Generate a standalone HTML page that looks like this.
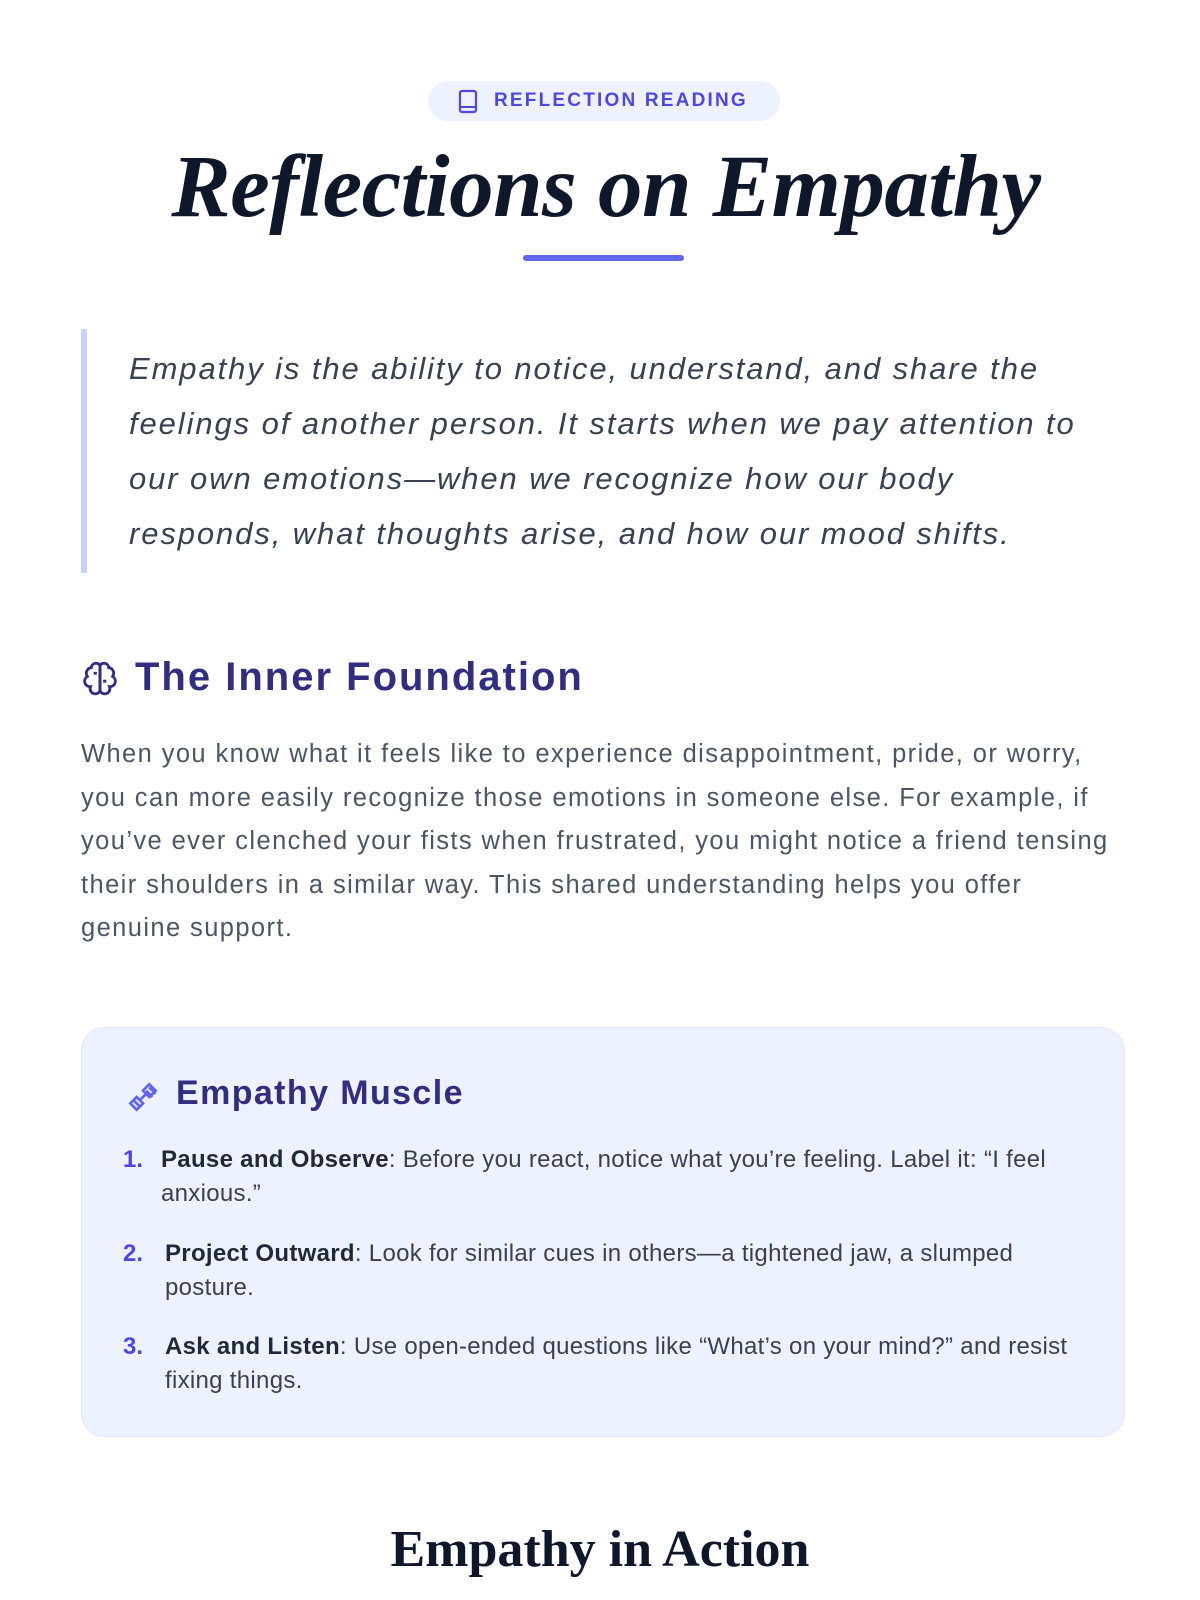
<!DOCTYPE html>
<html><head><meta charset="utf-8"><style>
*{margin:0;padding:0;box-sizing:border-box}
body{width:1200px;height:1600px;background:#fff;position:relative;overflow:hidden;font-family:"Liberation Sans",sans-serif}
.a{position:absolute;white-space:nowrap}
</style></head><body>
<div class="a" style="left:428px;top:81px;width:352px;height:40px;border-radius:20px;background:#eef2ff"></div>
<svg class="a" style="left:457px;top:89px" width="22" height="26" viewBox="0 0 22 26"><rect x="3" y="2" width="16" height="21" rx="2" fill="none" stroke="#4f46e5" stroke-width="2.2"/><line x1="3" y1="18" x2="19" y2="18" stroke="#4f46e5" stroke-width="2"/></svg>
<div class="a" style="left:494px;top:89px;font-size:19px;font-weight:bold;letter-spacing:2.2px;color:#4f46e5;line-height:24px">REFLECTION READING</div>
<div class="a" style="left:6px;width:1200px;top:137px;text-align:center;font-family:'Liberation Serif',serif;font-style:italic;font-weight:bold;font-size:89px;line-height:100px;color:#0f172a;letter-spacing:-0.5px">Reflections on Empathy</div>
<div class="a" style="left:523px;top:255px;width:161px;height:6px;border-radius:3px;background:#6366f1"></div>
<div class="a" style="left:81px;top:329px;width:6px;height:244px;background:#c7d2fe"></div>
<div class="a" style="left:129px;top:341px;font-size:31px;font-style:italic;line-height:55px;color:#374151;letter-spacing:1.9px">Empathy is the ability to notice, understand, and share the<br>feelings of another person. It starts when we pay attention to<br>our own emotions—when we recognize how our body<br>responds, what thoughts arise, and how our mood shifts.</div>
<svg class="a" style="left:81px;top:659px" width="38" height="38" viewBox="0 0 24 24" fill="none" stroke="#312e81" stroke-width="1.8"><path d="M12 4a3 3 0 0 0-5.5 1.5A3.5 3.5 0 0 0 4 11a3.5 3.5 0 0 0 2 6.5A3 3 0 0 0 12 20z"/><path d="M12 4a3 3 0 0 1 5.5 1.5A3.5 3.5 0 0 1 20 11a3.5 3.5 0 0 1-2 6.5A3 3 0 0 1 12 20z"/><path d="M12 4v16M8 9h2M14 14h2"/></svg>
<div class="a" style="left:135px;top:653px;font-size:40px;font-weight:bold;color:#312e81;line-height:48px;letter-spacing:2px">The Inner Foundation</div>
<div class="a" style="left:81px;top:733px;font-size:25.5px;line-height:43.5px;color:#4b5563;letter-spacing:1.4px">When you know what it feels like to experience disappointment, pride, or worry,<br>you can more easily recognize those emotions in someone else. For example, if<br>you’ve ever clenched your fists when frustrated, you might notice a friend tensing<br>their shoulders in a similar way. This shared understanding helps you offer<br>genuine support.</div>
<div class="a" style="left:81px;top:1027px;width:1044px;height:410px;border-radius:24px;background:#eef2ff;border:1.5px solid #e0e7ff"></div>
<svg class="a" style="left:124px;top:1078px" width="38" height="38" viewBox="0 0 24 24" fill="none" stroke="#6366f1" stroke-width="1.7"><path d="M6 14l4 4M4 16l4 4M8 12l4 4-4 4-4-4zM14 8l4 4M16 6l4 4M16 4l4 4-4 4-4-4zM10 14l4-4"/></svg>
<div class="a" style="left:176px;top:1073px;font-size:34px;font-weight:bold;color:#312e81;line-height:40px;letter-spacing:1.4px">Empathy Muscle</div>
<div class="a" style="left:123px;top:1143px;font-size:24px;line-height:34px;color:#4f46e5;font-weight:bold">1.</div>
<div class="a" style="left:161px;top:1143px;font-size:24px;line-height:34px;color:#374151;letter-spacing:0.3px"><b style="color:#1f2937">Pause and Observe</b>: Before you react, notice what you’re feeling. Label it: “I feel<br>anxious.”</div>
<div class="a" style="left:123px;top:1237px;font-size:24px;line-height:34px;color:#4f46e5;font-weight:bold">2.</div>
<div class="a" style="left:165px;top:1237px;font-size:24px;line-height:34px;color:#374151;letter-spacing:0.3px"><b style="color:#1f2937">Project Outward</b>: Look for similar cues in others—a tightened jaw, a slumped<br>posture.</div>
<div class="a" style="left:123px;top:1330px;font-size:24px;line-height:34px;color:#4f46e5;font-weight:bold">3.</div>
<div class="a" style="left:165px;top:1330px;font-size:24px;line-height:34px;color:#374151;letter-spacing:0.3px"><b style="color:#1f2937">Ask and Listen</b>: Use open-ended questions like “What’s on your mind?” and resist<br>fixing things.</div>
<div class="a" style="left:0;width:1200px;top:1518px;text-align:center;font-family:'Liberation Serif',serif;font-weight:bold;font-size:52px;line-height:64px;color:#0f172a">Empathy in Action</div>
</body></html>
